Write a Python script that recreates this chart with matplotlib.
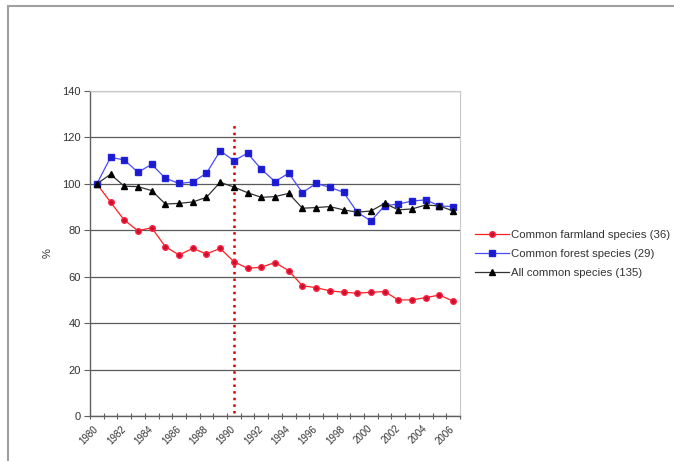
import matplotlib
matplotlib.use("Agg")
import matplotlib.pyplot as plt
from matplotlib.patches import Rectangle
import numpy as np

plt.rcParams['font.family'] = ['Liberation Sans', 'DejaVu Sans']

years = list(range(1980, 2007))
farmland = [100, 92.1, 84.4, 79.8, 81.1, 72.9, 69.4, 72.2, 69.8, 72.2,
            66.5, 63.6, 64.1, 66.1, 62.6, 56.1, 55.3, 53.9, 53.3, 52.9,
            53.3, 53.6, 50.0, 50.0, 51.0, 52.1, 49.5]
forest = [100, 111.4, 110.3, 105.0, 108.4, 102.4, 100.2, 100.8, 104.6, 114.2,
          110.0, 113.2, 106.3, 101.0, 104.6, 96.2, 100.2, 98.5, 96.4, 87.8,
          84.0, 90.6, 91.3, 92.6, 93.1, 90.5, 90.2]
all_common = [100, 104.1, 99.0, 98.8, 97.1, 91.3, 91.6, 92.2, 94.2, 100.7,
              98.6, 96.2, 94.2, 94.5, 95.9, 89.5, 89.8, 90.2, 88.8, 87.8,
              88.3, 91.6, 88.8, 89.2, 90.9, 90.5, 88.3]
labels = ["Common farmland species (36)", "Common forest species (29)",
          "All common species (135)"]
mark_year = 1990
mark_range = [1.5, 126.5]

W, H = 674, 461
fig = plt.figure(figsize=(W / 100, H / 100), dpi=100)
# chart frame (left / top edges visible)
fig.patches.append(Rectangle((8 / W, -0.05), 1.1, 1 - 6 / H + 0.05,
                             transform=fig.transFigure, fill=False,
                             edgecolor="#a0a0a0", linewidth=1.5))
ax = fig.add_axes([90 / W, (H - 416) / H, 370 / W, 325 / H])

ax.plot(years, farmland, color="#ff2020", linewidth=0.9, marker="o",
        markersize=4, markerfacecolor="#c8102e", markeredgecolor="#ff2040",
        label=labels[0])
ax.plot(years, forest, color="#4a4aff", linewidth=0.9, marker="s",
        markersize=4, markerfacecolor="#1a1acc", markeredgecolor="#2020dd",
        label=labels[1])
ax.plot(years, all_common, color="#333333", linewidth=0.9, marker="^",
        markersize=4.5, markerfacecolor="black", markeredgecolor="black",
        label=labels[2])
ax.plot([mark_year, mark_year], mark_range, color="#e00000", linestyle=":",
        linewidth=1.8, zorder=1)

ax.set_xlim(years[0] - 0.5, years[-1] + 0.5)
ax.set_ylim(0, 140)
ax.set_yticks(np.arange(0, 141, 20))
ax.set_xticks(years[::2])
ax.set_xticklabels([str(y) for y in years[::2]], rotation=45, ha="right",
                   va="center", rotation_mode="anchor", fontsize=7,
                   color="#333333")
ax.set_xticks(np.arange(years[0] - 0.5, years[-1] + 1), minor=True)
ax.tick_params(axis="x", which="major", length=0, pad=8)
ax.tick_params(axis="x", which="minor", length=4, direction="inout",
               color="#606060", width=0.8)
ax.tick_params(axis="y", length=4, direction="out", color="#606060",
               width=0.8, labelsize=8, labelcolor="#333333", pad=2.5)
ax.grid(axis="y", color="#5a5a5a", linewidth=0.9)
ax.set_axisbelow(True)
ax.set_ylabel("%", fontsize=8, color="#333333", labelpad=7)

for s in ["top", "right"]:
    ax.spines[s].set_color("#c8c8c8")
for s in ["left", "bottom"]:
    ax.spines[s].set_color("#606060")
    ax.spines[s].set_linewidth(1.0)

fig.legend(loc="center left", bbox_to_anchor=(475 / W, 1 - 254 / H),
           frameon=False, fontsize=8.2, handlelength=3.0, handletextpad=0.15,
           labelspacing=0.75, borderpad=0, borderaxespad=0,
           labelcolor="#333333")

fig.savefig("out.png", dpi=100)
